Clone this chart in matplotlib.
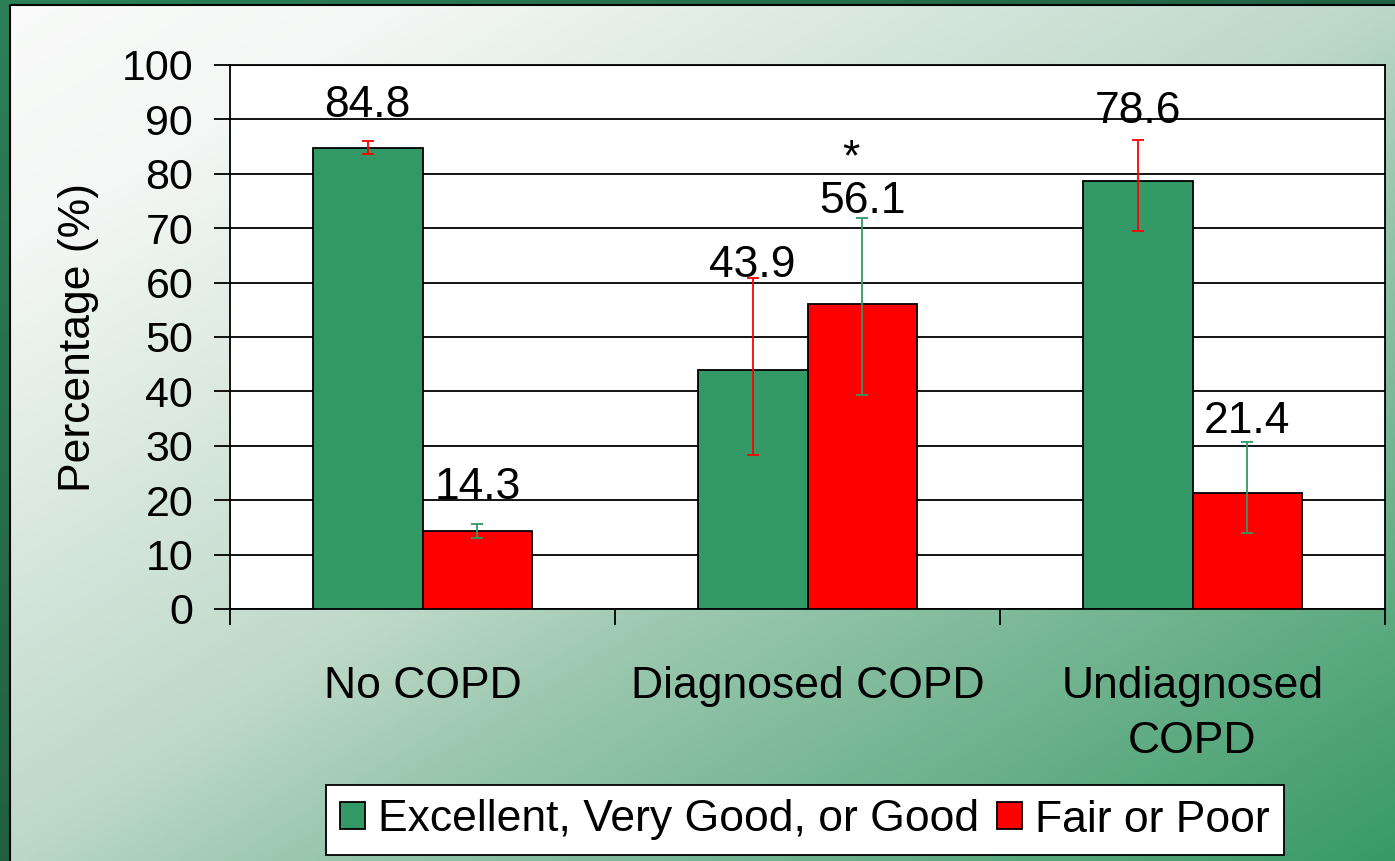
import numpy as np
import matplotlib
matplotlib.use("Agg")
import matplotlib.pyplot as plt

plt.rcParams['font.family'] = ['Liberation Sans', 'DejaVu Sans']

# data
categories = ['No COPD', 'Diagnosed COPD', 'Undiagnosed\nCOPD']
series_names = ['Excellent, Very Good, or Good', 'Fair or Poor']

good = [84.8, 43.9, 78.6]
good_lo = [83.6, 28.3, 69.5]
good_hi = [86.1, 60.8, 86.2]

poor = [14.3, 56.1, 21.4]
poor_lo = [13.1, 39.3, 14.0]
poor_hi = [15.7, 71.9, 30.7]

# baselines of the value labels (they were moved by hand in the original)
good_label_y = [90.4, 61.0, 89.4]
poor_label_y = [20.2, 72.8, 32.3]
star_y = 80.7

yticks = list(range(0, 101, 10))

GREEN = '#339966'
RED = '#FF0000'

W, H = 1395, 861
fig = plt.figure(figsize=(W / 100, H / 100), dpi=100)

# background: slide gradient + chart area gradient
bg = fig.add_axes([0, 0, 1, 1], zorder=0)
bg.set_axis_off()
yy, xx = np.mgrid[0:H, 0:W]
t = (xx / W + yy / H) / 2.0

def grad(t, stops, cols):
    cols = np.array(cols, dtype=float) / 255.0
    out = np.zeros(t.shape + (3,))
    for c in range(3):
        out[..., c] = np.interp(t, stops, cols[:, c])
    return out

slide = grad(t, [0, 1], [(44, 128, 88), (22, 66, 46)])
chart = grad(t, [0, 0.15, 0.5, 0.6, 1.0],
             [(250, 251, 250), (244, 247, 245), (189, 216, 200), (156, 200, 176), (56, 153, 102)])
img = slide.copy()
img[4:, 9:] = chart[4:, 9:]
bg.imshow(img, extent=[0, W, H, 0], aspect='auto', interpolation='bilinear')
bg.plot([9.5, 9.5, W], [H, 4.5, 4.5], color='black', lw=1.5)
bg.set_xlim(0, W)
bg.set_ylim(H, 0)

# main chart
ax = fig.add_axes([230 / W, 1 - 609 / H, (1385 - 230) / W, (609 - 65) / H], zorder=2)
ax.set_facecolor('white')

x = np.arange(len(categories))
w = 0.285
err_kw = dict(elinewidth=1.3, capsize=4.3, capthick=1.3, zorder=4)

ax.bar(x - w / 2, good, w, color=GREEN, edgecolor='black', linewidth=1.3, zorder=3,
       label=series_names[0],
       yerr=[np.array(good) - np.array(good_lo), np.array(good_hi) - np.array(good)],
       error_kw=dict(ecolor=RED, **err_kw))
ax.bar(x + w / 2, poor, w, color=RED, edgecolor='black', linewidth=1.3, zorder=3,
       label=series_names[1],
       yerr=[np.array(poor) - np.array(poor_lo), np.array(poor_hi) - np.array(poor)],
       error_kw=dict(ecolor=GREEN, **err_kw))

for i in range(len(categories)):
    ax.text(x[i] - w / 2, good_label_y[i], f'{good[i]:.1f}', ha='center', va='baseline',
            fontsize=32, zorder=5)
    ax.text(x[i] + w / 2, poor_label_y[i], f'{poor[i]:.1f}', ha='center', va='baseline',
            fontsize=32, zorder=5)
ax.text(x[1] + 0.114, star_y, '*', ha='center', va='baseline', fontsize=32, zorder=5)

ax.set_xlim(-0.5, len(categories) - 0.5)
ax.set_ylim(0, 100)
ax.set_yticks(yticks)
ax.tick_params(axis='y', labelsize=31, length=11.5, width=1.3, direction='out', pad=15)
ax.set_xticks(x)
ax.set_xticklabels(categories, fontsize=32, linespacing=1.45)
ax.set_xticks(np.arange(-0.5, len(categories)), minor=True)
ax.tick_params(axis='x', which='major', length=0, pad=41)
ax.tick_params(axis='x', which='minor', length=11.5, width=1.3, direction='out')

ax.set_axisbelow(True)
ax.yaxis.grid(True, color='black', linewidth=1.3)
for s in ax.spines.values():
    s.set_color('black')
    s.set_linewidth(1.3)

ax.set_ylabel('Percentage (%)', fontsize=32, va='center')
ax.yaxis.set_label_coords(-0.131, 0.5)

leg = fig.legend(loc='center', bbox_to_anchor=(805 / W, 1 - 820 / H), ncol=2,
                 fontsize=32, frameon=True, fancybox=False, edgecolor='black',
                 framealpha=1, handlelength=0.55, handleheight=0.55,
                 handletextpad=0.3, columnspacing=0.4, borderpad=0.32, borderaxespad=0)
leg.get_frame().set_linewidth(1.3)
leg.set_zorder(3)

fig.savefig('out.png', dpi=100)
